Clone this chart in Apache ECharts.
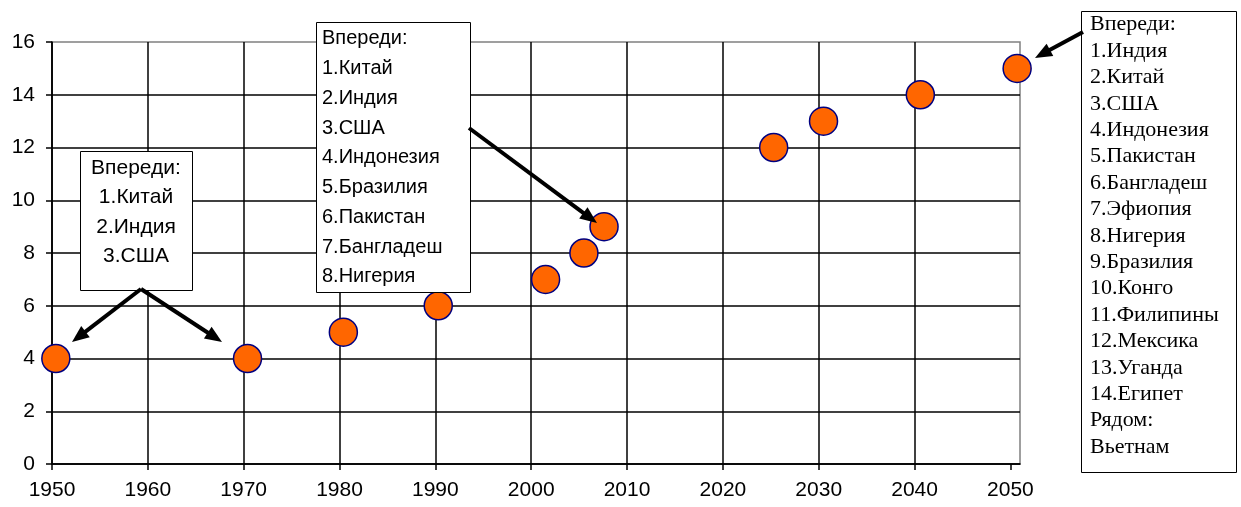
<!DOCTYPE html>
<html>
<head>
<meta charset="utf-8">
<script src="https://cdn.jsdelivr.net/npm/echarts@6/dist/echarts.min.js"></script>
<style>
html,body{margin:0;padding:0;background:#fff;}
#chart{width:1241px;height:507px;}
</style>
</head>
<body>
<div id="chart"></div>
<script>
// ---- data ----
const years = [1950.4, 1970.4, 1980.4, 1990.3, 2001.5, 2005.5, 2007.6, 2025.3, 2030.5, 2040.6, 2050.7];
const values = [4, 4, 5, 6, 7, 8, 9, 12, 13, 14, 15];
const xTicks = [1950, 1960, 1970, 1980, 1990, 2000, 2010, 2020, 2030, 2040, 2050];
const yTicks = [0, 2, 4, 6, 8, 10, 12, 14, 16];
const note1 = ['Впереди:', '1.Китай', '2.Индия', '3.США'];
const note2 = ['Впереди:', '1.Китай', '2.Индия', '3.США', '4.Индонезия', '5.Бразилия', '6.Пакистан', '7.Бангладеш', '8.Нигерия'];
const note3 = ['Впереди:', '1.Индия', '2.Китай', '3.США', '4.Индонезия', '5.Пакистан', '6.Бангладеш', '7.Эфиопия', '8.Нигерия', '9.Бразилия', '10.Конго', '11.Филипины', '12.Мексика', '13.Уганда', '14.Египет', 'Рядом:', 'Вьетнам'];

const chart = echarts.init(document.getElementById('chart'));

function arrow(x1, y1, x2, y2) {
  const dx = x2 - x1, dy = y2 - y1;
  const L = Math.sqrt(dx * dx + dy * dy);
  const ux = dx / L, uy = dy / L;
  const hl = 17, hw = 7;
  const bx = x2 - ux * hl, by = y2 - uy * hl;
  return [
    { type: 'line', shape: { x1: x1, y1: y1, x2: bx + ux * 2, y2: by + uy * 2 }, style: { stroke: '#000', lineWidth: 4 }, z: 100 },
    { type: 'polygon', shape: { points: [[x2, y2], [bx - uy * hw, by + ux * hw], [bx + uy * hw, by - ux * hw]] }, style: { fill: '#000' }, z: 100 }
  ];
}

const graphics = [
  { type: 'rect', shape: { x: 80.5, y: 151.5, width: 112, height: 139 }, style: { fill: '#fff', stroke: '#000', lineWidth: 1 }, z: 100 },
  { type: 'text', x: 136, y: 153, style: { text: note1.join('\n'), fontFamily: 'Liberation Sans, Arial', fontSize: 21, lineHeight: 29.5, align: 'center', verticalAlign: 'top', fill: '#000' }, z: 101 },
  { type: 'rect', shape: { x: 316.5, y: 22.5, width: 154, height: 270 }, style: { fill: '#fff', stroke: '#000', lineWidth: 1 }, z: 100 },
  { type: 'text', x: 322, y: 24, style: { text: note2.join('\n'), fontFamily: 'Liberation Sans, Arial', fontSize: 20, lineHeight: 29.75, letterSpacing: 1.2, align: 'left', verticalAlign: 'top', fill: '#000' }, z: 101 },
  { type: 'rect', shape: { x: 1081.5, y: 11.5, width: 155, height: 461 }, style: { fill: '#fff', stroke: '#000', lineWidth: 1 }, z: 100 },
  { type: 'text', x: 1090, y: 11.5, style: { text: note3.join('\n'), fontFamily: 'Liberation Serif, Times New Roman', fontSize: 22, lineHeight: 26.4, align: 'left', verticalAlign: 'top', fill: '#000' }, z: 101 }
].concat(arrow(141, 289, 72, 342), arrow(141, 289, 222, 342), arrow(469, 128, 597, 223), arrow(1083, 32, 1035, 58));

const option = {
  animation: false,
  backgroundColor: '#fff',
  grid: { left: 52, top: 42, right: 221, bottom: 43, show: true, borderColor: '#808080', borderWidth: 1.5, backgroundColor: 'transparent' },
  xAxis: {
    type: 'value', min: 1950, max: 2051, interval: 10,
    axisLine: { show: true, onZero: false, lineStyle: { color: '#000', width: 1.5 } },
    axisTick: { show: true, length: 6, customValues: xTicks, lineStyle: { color: '#000', width: 1.5 } },
    axisLabel: { customValues: xTicks, formatter: v => String(v), color: '#000', fontFamily: 'Liberation Sans, Arial', fontSize: 21, margin: 16 },
    splitLine: { show: true, showMaxLine: false, lineStyle: { color: '#000', width: 1.5 } }
  },
  yAxis: {
    type: 'value', min: 0, max: 16, interval: 2,
    axisLine: { show: true, lineStyle: { color: '#000', width: 1.5 } },
    axisTick: { show: true, length: 6, lineStyle: { color: '#000', width: 1.5 } },
    axisLabel: { formatter: v => String(v), color: '#000', fontFamily: 'Liberation Sans, Arial', fontSize: 21, margin: 17 },
    splitLine: { show: true, showMaxLine: false, lineStyle: { color: '#000', width: 1.5 } }
  },
  series: [{
    type: 'scatter',
    data: years.map((y, i) => [y, values[i]]),
    symbol: 'circle',
    symbolSize: 28,
    itemStyle: { color: '#FF6600', borderColor: '#000080', borderWidth: 1.5, opacity: 1 },
    z: 5
  }],
  graphic: graphics
};
chart.setOption(option);
</script>
</body>
</html>
